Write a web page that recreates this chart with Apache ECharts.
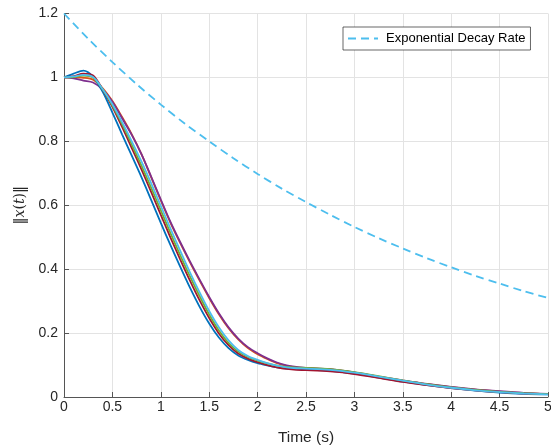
<!DOCTYPE html>
<html>
<head>
<meta charset="utf-8">
<script src="https://cdn.jsdelivr.net/npm/echarts@6/dist/echarts.min.js"></script>
<style>html,body{margin:0;padding:0;background:#fff}#c{width:551px;height:446px}</style>
</head>
<body>
<div id="c"></div>
<script>
var xTicks = [0, 0.5, 1, 1.5, 2, 2.5, 3, 3.5, 4, 4.5, 5];
var yTicks = [0, 0.2, 0.4, 0.6, 0.8, 1, 1.2];

var time = [0, 0.1, 0.2, 0.3, 0.4, 0.5, 0.6, 0.7, 0.8, 0.9, 1.0, 1.1, 1.2, 1.3, 1.4, 1.5, 1.6, 1.7, 1.8, 1.9, 2.0, 2.1, 2.2, 2.3, 2.4, 2.5, 2.75, 3.0, 3.25, 3.5, 3.75, 4.0, 4.25, 4.5, 4.75, 5.0];

var trajOrange = [1.000, 1.000, 0.999, 0.993, 0.966, 0.926, 0.876, 0.822, 0.760, 0.688, 0.615, 0.545, 0.482, 0.422, 0.365, 0.310, 0.259, 0.215, 0.180, 0.153, 0.134, 0.119, 0.106, 0.097, 0.092, 0.090, 0.086, 0.076, 0.063, 0.051, 0.040, 0.031, 0.023, 0.017, 0.012, 0.009];
var trajPurple = [1.000, 0.997, 0.990, 0.984, 0.962, 0.924, 0.872, 0.820, 0.760, 0.690, 0.618, 0.548, 0.485, 0.425, 0.368, 0.313, 0.262, 0.218, 0.183, 0.156, 0.137, 0.121, 0.108, 0.099, 0.094, 0.091, 0.087, 0.077, 0.064, 0.052, 0.041, 0.032, 0.024, 0.018, 0.013, 0.010];
var trajBlue   = [1.000, 1.012, 1.021, 1.002, 0.955, 0.890, 0.822, 0.755, 0.688, 0.617, 0.545, 0.475, 0.408, 0.343, 0.283, 0.230, 0.186, 0.153, 0.130, 0.116, 0.106, 0.099, 0.093, 0.089, 0.087, 0.086, 0.082, 0.073, 0.061, 0.048, 0.037, 0.028, 0.020, 0.014, 0.010, 0.008];
var trajRed    = [1.000, 1.004, 1.012, 1.006, 0.962, 0.908, 0.845, 0.779, 0.712, 0.642, 0.570, 0.499, 0.431, 0.365, 0.303, 0.247, 0.199, 0.162, 0.136, 0.120, 0.109, 0.100, 0.093, 0.088, 0.085, 0.084, 0.080, 0.072, 0.060, 0.047, 0.037, 0.028, 0.021, 0.015, 0.011, 0.009];
var trajGreen  = [1.000, 1.001, 1.006, 1.000, 0.962, 0.912, 0.854, 0.790, 0.724, 0.655, 0.584, 0.513, 0.444, 0.378, 0.316, 0.258, 0.208, 0.169, 0.142, 0.125, 0.114, 0.105, 0.098, 0.094, 0.092, 0.091, 0.087, 0.078, 0.065, 0.052, 0.040, 0.030, 0.022, 0.016, 0.012, 0.009];
var trajLight  = [1.000, 1.003, 1.008, 1.001, 0.963, 0.916, 0.860, 0.800, 0.737, 0.669, 0.598, 0.527, 0.458, 0.391, 0.328, 0.269, 0.218, 0.177, 0.147, 0.128, 0.116, 0.106, 0.098, 0.093, 0.090, 0.089, 0.085, 0.076, 0.064, 0.051, 0.039, 0.029, 0.021, 0.015, 0.011, 0.008];

var decayTime = [0, 0.25, 0.5, 0.75, 1, 1.25, 1.5, 1.75, 2, 2.25, 2.5, 2.75, 3, 3.25, 3.5, 3.75, 4, 4.25, 4.5, 4.75, 5];
var decayRate = [1.200, 1.121, 1.048, 0.979, 0.915, 0.855, 0.800, 0.747, 0.698, 0.652, 0.610, 0.570, 0.532, 0.497, 0.465, 0.434, 0.406, 0.379, 0.355, 0.331, 0.310];

var trajectories = [
  {vals: trajOrange, color: '#D95319'},
  {vals: trajPurple, color: '#7E2F8E'},
  {vals: trajBlue,   color: '#0072BD'},
  {vals: trajRed,    color: '#A2142F'},
  {vals: trajGreen,  color: '#77AC30'},
  {vals: trajLight,  color: '#4DBEEE'}
];

function pairs(xs, ys) { return xs.map(function (x, i) { return [x, ys[i]]; }); }

var series = trajectories.map(function (t, k) {
  return {
    name: 'traj' + k, type: 'line', data: pairs(time, t.vals),
    smooth: 0.3, showSymbol: false, symbol: 'none', silent: true,
    lineStyle: {color: t.color, width: 1.8}, itemStyle: {color: t.color}, z: 2 + k
  };
});
series.push({
  name: 'Exponential Decay Rate', type: 'line', data: pairs(decayTime, decayRate),
  smooth: 0.3, showSymbol: false, symbol: 'none', silent: true,
  lineStyle: {color: '#4DBEEE', width: 1.8, type: [8, 5]}, itemStyle: {color: '#4DBEEE'}, z: 10
});

var font = 'Liberation Sans, Arial, Helvetica, sans-serif';
var chart = echarts.init(document.getElementById('c'), null, {renderer: 'canvas'});
chart.setOption({
  animation: false,
  backgroundColor: '#fff',
  grid: {left: 64, right: 3, top: 13.5, bottom: 49, containLabel: false, outerBoundsMode: 'none'},
  legend: {
    data: [{name: 'Exponential Decay Rate'}],
    left: 343, top: 27, orient: 'horizontal',
    itemWidth: 30, itemHeight: 10, itemGap: 8,
    padding: [5, 5, 5, 4],
    itemStyle: {opacity: 0},
    backgroundColor: '#fff', borderColor: '#262626', borderWidth: 0.7, borderRadius: 0,
    textStyle: {fontFamily: font, fontSize: 13, color: '#000', padding: [0, 0, 0, 3]}
  },
  xAxis: {
    type: 'value', min: 0, max: 5, interval: 0.5,
    name: 'Time (s)', nameLocation: 'middle', nameGap: 33,
    nameTextStyle: {fontFamily: font, fontSize: 15.5, color: '#262626'},
    axisLine: {onZero: false, lineStyle: {color: '#555', width: 1}},
    axisTick: {inside: true, length: 5, lineStyle: {color: '#555'}},
    axisLabel: {fontFamily: font, fontSize: 14, color: '#262626', margin: 3,
      formatter: function (v) { return String(v); }},
    splitLine: {show: true, lineStyle: {color: '#e3e3e3', width: 1}}
  },
  yAxis: {
    type: 'value', min: 0, max: 1.2, interval: 0.2,
    name: '{n|‖}{i|x}{n|(}{i|t}{n|)‖}', nameLocation: 'middle', nameGap: 36, nameRotate: 90,
    nameTextStyle: {
      rich: {
        n: {fontFamily: 'DejaVu Serif, Liberation Serif, serif', fontSize: 14, color: '#262626'},
        i: {fontFamily: 'DejaVu Serif, Liberation Serif, serif', fontSize: 14, fontStyle: 'italic', color: '#262626'}
      }
    },
    axisLine: {show: true, onZero: false, lineStyle: {color: '#555', width: 1}},
    axisTick: {show: true, inside: true, length: 5, lineStyle: {color: '#555'}},
    axisLabel: {fontFamily: font, fontSize: 14, color: '#262626', margin: 6,
      formatter: function (v) { return String(Math.round(v * 10) / 10); }},
    splitLine: {show: true, lineStyle: {color: '#e3e3e3', width: 1}}
  },
  series: series
});
</script>
</body>
</html>
